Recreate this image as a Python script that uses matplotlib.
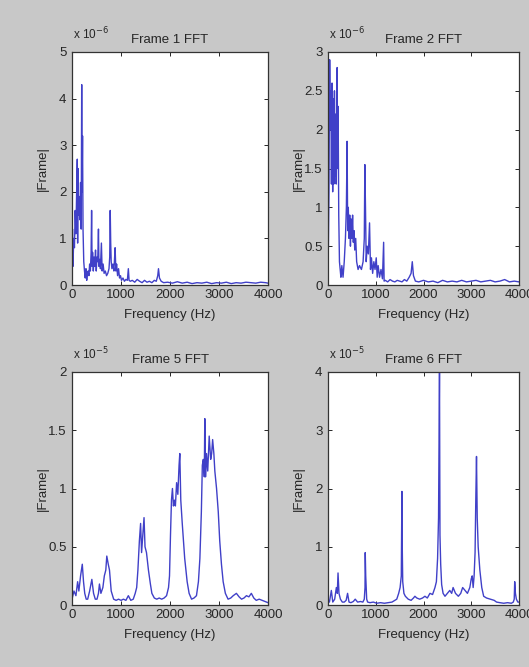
import matplotlib
matplotlib.use("Agg")
import matplotlib.pyplot as plt

# magnitude spectra as (frequency Hz, |X|) pairs, |X| in units of the exponent above each axes
frame1 = [(0, 0.2), (10, 1.2), (20, 0.4), (35, 1.0), (50, 0.8), (65, 1.6), (80, 1.1), (95, 2.0),
          (108, 2.7), (115, 0.9), (122, 2.5), (132, 1.5), (145, 1.9), (160, 1.4), (175, 2.2),
          (188, 1.2), (198, 4.3), (205, 2.0), (215, 3.2), (225, 1.2), (240, 0.5), (255, 0.3),
          (270, 0.15), (285, 0.35), (300, 0.1), (315, 0.25), (330, 0.3), (345, 0.2), (360, 0.45),
          (375, 0.3), (390, 0.7), (400, 1.6), (410, 0.4), (420, 0.7), (435, 0.3), (450, 0.6),
          (465, 0.4), (480, 0.75), (495, 0.3), (510, 0.6), (525, 0.5), (540, 1.2), (550, 0.4),
          (565, 0.55), (580, 0.35), (600, 0.9), (615, 0.3), (635, 0.45), (655, 0.25), (680, 0.3),
          (705, 0.2), (730, 0.25), (755, 0.35), (770, 0.6), (780, 1.6), (790, 0.9), (800, 0.5),
          (815, 0.35), (835, 0.45), (855, 0.3), (870, 0.6), (880, 0.8), (895, 0.3), (910, 0.45),
          (930, 0.2), (950, 0.35), (970, 0.15), (990, 0.2), (1010, 0.1), (1040, 0.15),
          (1070, 0.08), (1100, 0.12), (1130, 0.1), (1150, 0.35), (1165, 0.1), (1190, 0.08),
          (1230, 0.1), (1280, 0.06), (1330, 0.12), (1380, 0.08), (1430, 0.05), (1480, 0.1),
          (1530, 0.06), (1580, 0.08), (1630, 0.05), (1680, 0.1), (1720, 0.08), (1750, 0.2),
          (1765, 0.35), (1785, 0.15), (1820, 0.08), (1870, 0.05), (1950, 0.06), (2050, 0.04),
          (2150, 0.07), (2250, 0.04), (2350, 0.06), (2450, 0.03), (2550, 0.05), (2650, 0.04),
          (2750, 0.06), (2850, 0.03), (2950, 0.05), (3050, 0.04), (3150, 0.06), (3250, 0.03),
          (3350, 0.05), (3450, 0.04), (3550, 0.06), (3650, 0.05), (3750, 0.04), (3850, 0.06),
          (3950, 0.05), (4000, 0.04)]

frame2 = [(0, 0.3), (8, 0.5), (20, 1.2), (35, 2.9), (50, 2.0), (60, 2.5), (72, 1.3), (85, 2.6),
          (98, 1.2), (110, 2.4), (122, 1.3), (135, 2.5), (148, 1.4), (160, 2.2), (172, 1.3),
          (185, 2.0), (192, 2.8), (200, 1.5), (212, 2.3), (225, 0.9), (240, 0.3), (255, 0.2),
          (270, 0.1), (290, 0.25), (315, 0.1), (340, 0.3), (365, 0.6), (385, 1.0), (400, 1.85),
          (412, 0.7), (425, 1.0), (440, 0.6), (455, 0.9), (470, 0.5), (485, 0.85), (500, 0.6),
          (515, 0.9), (530, 0.55), (545, 0.7), (560, 0.45), (580, 0.6), (600, 0.3), (630, 0.2),
          (660, 0.25), (700, 0.2), (735, 0.3), (760, 0.6), (772, 1.55), (785, 1.0), (800, 0.3),
          (820, 0.5), (845, 0.4), (870, 0.8), (890, 0.2), (910, 0.35), (935, 0.15), (960, 0.3),
          (985, 0.2), (1010, 0.35), (1030, 0.1), (1050, 0.25), (1080, 0.1), (1110, 0.2),
          (1140, 0.08), (1165, 0.55), (1175, 0.05), (1200, 0.06), (1250, 0.04), (1300, 0.07),
          (1350, 0.05), (1400, 0.04), (1450, 0.06), (1500, 0.05), (1550, 0.04), (1600, 0.07),
          (1650, 0.05), (1700, 0.1), (1740, 0.15), (1765, 0.3), (1790, 0.12), (1830, 0.05),
          (1900, 0.04), (2000, 0.06), (2100, 0.04), (2200, 0.05), (2300, 0.03), (2400, 0.06),
          (2500, 0.04), (2600, 0.05), (2700, 0.04), (2800, 0.06), (2900, 0.04), (3000, 0.05),
          (3100, 0.06), (3200, 0.04), (3300, 0.05), (3400, 0.06), (3500, 0.04), (3600, 0.05),
          (3700, 0.07), (3800, 0.04), (3900, 0.05), (4000, 0.04)]

frame5 = [(0, 0.05), (40, 0.12), (80, 0.08), (115, 0.2), (140, 0.12), (175, 0.25), (210, 0.35),
          (235, 0.2), (260, 0.1), (290, 0.05), (320, 0.05), (360, 0.12), (405, 0.22), (440, 0.1),
          (475, 0.05), (510, 0.05), (540, 0.1), (560, 0.18), (590, 0.1), (630, 0.15), (660, 0.25),
          (690, 0.3), (710, 0.42), (740, 0.35), (765, 0.3), (800, 0.12), (850, 0.05), (900, 0.04),
          (950, 0.05), (1000, 0.04), (1050, 0.05), (1100, 0.04), (1150, 0.08), (1200, 0.04),
          (1250, 0.05), (1290, 0.1), (1320, 0.15), (1345, 0.3), (1375, 0.55), (1400, 0.7),
          (1420, 0.45), (1445, 0.6), (1470, 0.75), (1490, 0.5), (1520, 0.45), (1560, 0.3),
          (1600, 0.18), (1630, 0.1), (1680, 0.06), (1730, 0.05), (1780, 0.06), (1830, 0.05),
          (1880, 0.06), (1930, 0.08), (1970, 0.15), (1990, 0.25), (2010, 0.6), (2030, 0.9),
          (2050, 1.0), (2070, 0.85), (2090, 0.9), (2110, 0.85), (2135, 1.05), (2160, 0.95),
          (2185, 1.2), (2200, 1.3), (2220, 0.9), (2250, 0.7), (2300, 0.4), (2350, 0.2),
          (2390, 0.1), (2440, 0.05), (2490, 0.06), (2540, 0.08), (2580, 0.2), (2610, 0.4),
          (2640, 0.8), (2660, 1.2), (2680, 1.25), (2700, 1.1), (2710, 1.6), (2725, 1.1),
          (2745, 1.3), (2770, 1.15), (2800, 1.45), (2830, 1.25), (2850, 1.3), (2870, 1.42),
          (2895, 1.3), (2915, 1.15), (2950, 1.0), (2985, 0.8), (3015, 0.55), (3050, 0.35),
          (3085, 0.2), (3130, 0.1), (3185, 0.05), (3240, 0.06), (3290, 0.08), (3355, 0.1),
          (3410, 0.07), (3460, 0.05), (3510, 0.06), (3560, 0.08), (3610, 0.07), (3660, 0.1),
          (3710, 0.06), (3760, 0.04), (3820, 0.05), (3880, 0.04), (3940, 0.03), (4000, 0.02)]

frame6 = [(0, 0.1), (30, 0.05), (70, 0.25), (100, 0.05), (140, 0.1), (175, 0.3), (195, 0.2),
          (210, 0.55), (230, 0.2), (260, 0.1), (300, 0.05), (340, 0.05), (380, 0.08), (410, 0.2),
          (440, 0.05), (480, 0.04), (530, 0.06), (570, 0.1), (620, 0.05), (680, 0.06), (730, 0.05),
          (760, 0.1), (775, 0.3), (780, 0.9), (790, 0.5), (810, 0.1), (830, 0.05), (880, 0.04),
          (950, 0.05), (1020, 0.03), (1100, 0.04), (1180, 0.03), (1260, 0.04), (1340, 0.05),
          (1400, 0.08), (1440, 0.1), (1480, 0.2), (1510, 0.3), (1535, 0.5), (1548, 1.95),
          (1552, 1.2), (1565, 0.4), (1590, 0.2), (1620, 0.15), (1680, 0.1), (1740, 0.08),
          (1790, 0.12), (1820, 0.15), (1860, 0.12), (1920, 0.1), (1980, 0.12), (2030, 0.15),
          (2080, 0.12), (2135, 0.2), (2190, 0.18), (2240, 0.3), (2270, 0.4), (2295, 0.8),
          (2315, 1.5), (2335, 4.0), (2340, 2.55), (2345, 1.2), (2360, 0.7), (2380, 0.35),
          (2410, 0.2), (2450, 0.15), (2500, 0.2), (2550, 0.25), (2590, 0.2), (2620, 0.3),
          (2670, 0.2), (2730, 0.15), (2780, 0.2), (2820, 0.3), (2870, 0.25), (2920, 0.2),
          (2970, 0.3), (3000, 0.45), (3020, 0.5), (3040, 0.3), (3060, 0.5), (3080, 0.9),
          (3095, 1.8), (3110, 2.55), (3125, 1.5), (3145, 1.0), (3180, 0.6), (3220, 0.3),
          (3260, 0.15), (3320, 0.12), (3400, 0.1), (3480, 0.08), (3530, 0.05), (3600, 0.04),
          (3680, 0.03), (3760, 0.04), (3840, 0.03), (3880, 0.05), (3900, 0.1), (3910, 0.4),
          (3925, 0.2), (3945, 0.1), (3975, 0.05), (4000, 0.05)]

titles = ["Frame 1 FFT", "Frame 2 FFT", "Frame 5 FFT", "Frame 6 FFT"]
exponents = [-6, -6, -5, -5]
ymax = [5, 3, 2, 4]
ystep = [1, 0.5, 0.5, 1]
xticks = [0, 1000, 2000, 3000, 4000]

plt.rcParams["font.family"] = ["Liberation Sans", "DejaVu Sans"]
fs = 9.5
txt = "#262626"

fig = plt.figure(figsize=(5.29, 6.67), dpi=100, facecolor="#c8c8c8")
W, H = 529.0, 667.0
# axes boxes in pixels: left, top, right, bottom
boxes = [(72, 52, 268, 285), (328, 52, 519, 285), (72, 372, 268, 605), (328, 372, 519, 605)]
spectra = [frame1, frame2, frame5, frame6]

for i, (l, t, r, b) in enumerate(boxes):
    ax = fig.add_axes([l / W, 1 - b / H, (r - l) / W, (b - t) / H])
    hz = [p[0] for p in spectra[i]]
    mag = [p[1] for p in spectra[i]]
    ax.plot(hz, mag, color="#4040c8", lw=1.0)
    ax.set_xlim(0, 4000)
    ax.set_ylim(0, ymax[i])
    ax.set_xticks(xticks)
    n = int(round(ymax[i] / ystep[i]))
    yt = [k * ystep[i] for k in range(n + 1)]
    ax.set_yticks(yt)
    ax.set_yticklabels(["%g" % v for v in yt])
    ax.tick_params(direction="in", length=3, width=0.7, top=True, right=True,
                   labelsize=fs, colors=txt)
    ax.tick_params(axis="x", pad=3)
    ax.tick_params(axis="y", pad=4)
    for s in ax.spines.values():
        s.set_color("#333333")
        s.set_linewidth(0.9)
    ax.set_title(titles[i], fontsize=fs, pad=6.5, color=txt)

    ax.set_xlabel("Frequency (Hz)", fontsize=fs, color=txt)
    ax.xaxis.label.set_va("center")
    ax.xaxis.set_label_coords(0.5, -30.0 / (b - t))
    ax.set_ylabel("|Frame|", fontsize=fs, color=txt)
    ax.yaxis.set_label_coords(-23.0 / (r - l), 0.5)

    ax.text(0.005, 1.04, "x 10$^{%d}$" % exponents[i], transform=ax.transAxes,
            ha="left", va="bottom", fontsize=8.5, color=txt)

fig.savefig("out.png", dpi=100, facecolor=fig.get_facecolor())
